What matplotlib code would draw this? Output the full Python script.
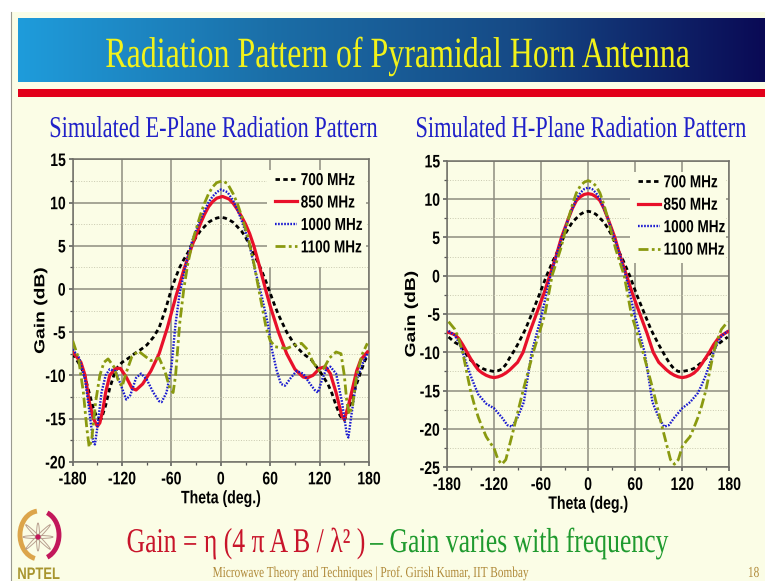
import numpy as np
import matplotlib
matplotlib.use('Agg')
import matplotlib.pyplot as plt
from matplotlib.colors import LinearSegmentedColormap
from matplotlib.patches import Arc, Circle, Ellipse, Rectangle
from matplotlib.patheffects import AbstractPathEffect
from matplotlib.transforms import Affine2D

W, H = 765, 581
bg = '#FBFDE6'

labels = ['700 MHz', '850 MHz', '1000 MHz', '1100 MHz']
colors = ['black', '#E8102A', '#1A1AD0', '#8A9A10']
styles = [(0, (1.6, 1.2)), '-', (0, (0.7, 0.6)), (0, (3.6, 1.2, 1, 1.2))]
widths = [2.0, 2.3, 1.7, 2.0]

# E-plane
e700_x = [-180,-170,-165,-160,-155,-150,-145,-140,-135,-130,-125,-120,-112,-105,-97,-90,-82,-75,-67,-60,-55,-50,-45,-40,-35,-30,-25,-20,-15,-10,-5,0,5,10,15,20,25,30,35,40,45,50,55,60,65,70,75,80,90,100,110,120,130,135,140,145,150,155,160,165,170,175,178]
e700_y = [-7.5,-9,-10.2,-12,-13.8,-15,-15,-13.5,-11.5,-10,-9,-8.5,-8,-7.5,-7,-6.5,-5.6,-4.5,-2.3,0,1.3,2.5,3.4,4.2,5.2,6,6.7,7.2,7.7,8,8.2,8.3,8.2,8,7.7,7.2,6.7,6,5,4,3.1,2,0.8,-0.5,-1.8,-3,-4,-5,-6.5,-7.5,-8.2,-9.5,-11,-12.1,-13.5,-14.7,-15.2,-14,-12.5,-11,-9.6,-8.3,-7.8]
e850_x = [-180,-170,-165,-160,-155,-150,-147,-143,-140,-135,-128,-122,-115,-108,-103,-95,-85,-75,-65,-55,-45,-35,-25,-20,-15,-10,-5,2,10,15,20,25,30,35,40,45,50,55,60,70,80,90,100,105,112,120,127,133,140,147,150,155,160,165,170,178]
e850_y = [-7.3,-8.5,-10,-13,-15,-15.9,-15.5,-13.8,-12,-10,-9.2,-9.2,-10.2,-11.5,-11.7,-11,-9.5,-7.5,-4.5,-1,2.2,5,7.5,8.6,9.5,10.1,10.5,10.7,10.4,9.9,9.2,8.4,7.5,6.4,5,3.3,1.5,-0.3,-2,-5,-7.5,-9.3,-10.2,-10.3,-10,-9.2,-9,-9.8,-12,-14.7,-15.1,-13.5,-11.5,-9.5,-8.2,-7.3]
e1000_x = [-180,-172,-165,-160,-155,-153,-150,-145,-140,-135,-128,-122,-115,-110,-103,-97,-90,-82,-75,-72,-66,-60,-55,-50,-42,-35,-25,-20,-15,-10,-5,0,8,15,20,25,30,35,42,50,57,62,68,73,78,85,92,100,107,114,118,123,128,133,140,147,153,155,158,165,172,178]
e1000_y = [-7,-8,-10.5,-14,-17.8,-18,-16,-12,-10,-9.3,-9.5,-11,-12.8,-12.3,-10.3,-9.8,-10.5,-12,-13,-13.1,-12,-9,-4,-0.5,3,5.5,8,9,10,10.7,11.2,11.5,11.2,10.2,9.2,8,6.6,5,2,-1,-4,-7,-9.5,-11,-11.2,-10.3,-9.5,-9.8,-10.8,-11.7,-12,-10.5,-9.3,-9,-9.8,-13,-16.8,-17.2,-15,-10.5,-8.7,-7.5]
e1100_x = [-180,-173,-167,-163,-160,-157,-152,-147,-142,-137,-130,-125,-120,-115,-108,-100,-92,-85,-75,-68,-62,-58,-55,-50,-45,-40,-33,-25,-20,-15,-10,-5,2,8,15,20,25,33,40,48,55,60,66,80,90,98,105,112,120,125,132,140,146,150,153,156,160,165,172,178]
e1100_y = [-6,-8,-12,-16,-18.3,-17.5,-13,-10,-8.5,-8.1,-9,-10.5,-11.3,-9.7,-7.8,-7.2,-7.8,-8.3,-8,-9.5,-11.5,-12,-10,-4,0,3,6,8.5,9.9,11,11.8,12.3,12.5,12.2,11,9.9,8.5,6,3,-1,-4.5,-6,-6.7,-6.9,-6.5,-6.3,-7,-8.5,-9.5,-9.2,-8,-7.3,-7.5,-10,-13,-14.5,-13.5,-10,-7.5,-6.3]

# H-plane
h700_x = [-178,-170,-165,-160,-155,-150,-145,-140,-135,-130,-125,-120,-115,-110,-105,-100,-95,-90,-80,-72,-62,-53,-45,-38,-30,-25,-20,-15,-10,-5,0,5,10,15,20,25,30,38,45,53,62,72,80,90,95,100,105,110,115,120,125,130,135,140,145,150,155,160,165,170,178]
h700_y = [-8,-8.7,-9,-9.5,-10.3,-11,-11.4,-11.8,-12.1,-12.3,-12.4,-12.5,-12.4,-12.2,-11.6,-10.7,-9.9,-9,-7,-5,-2.4,0,1.9,3.4,5.3,6.2,7,7.5,8,8.3,8.4,8.3,8,7.5,7,6.2,5.3,3.4,1.9,0,-2.5,-5,-7,-9,-9.9,-10.8,-11.6,-12.2,-12.5,-12.5,-12.4,-12.3,-12.1,-11.7,-11.3,-10.8,-10.2,-9.4,-9,-8.6,-8]
h850_x = [-178,-170,-165,-160,-155,-150,-145,-140,-135,-130,-125,-120,-115,-110,-105,-100,-90,-83,-75,-66,-57,-49,-41,-34,-25,-20,-15,-10,-5,0,5,10,15,20,25,34,41,49,57,66,75,83,90,100,105,110,115,120,125,130,135,140,145,150,155,160,165,170,178]
h850_y = [-7.4,-7.7,-8.2,-9,-9.9,-10.8,-11.6,-12.3,-12.7,-13,-13.2,-13.3,-13.2,-13,-12.7,-12.3,-11.3,-10,-7.5,-5,-2.5,0,2.5,5,7.5,8.8,9.8,10.3,10.6,10.7,10.6,10.3,9.8,8.8,7.5,5,2.5,0,-2.5,-5,-7.5,-10,-11.3,-12.3,-12.7,-13,-13.2,-13.3,-13.2,-13,-12.7,-12.2,-11.5,-10.7,-9.9,-9,-8.3,-7.8,-7.3]
h1000_x = [-178,-170,-165,-160,-155,-150,-145,-140,-130,-120,-110,-103,-97,-90,-82,-72,-59,-48,-38,-30,-25,-20,-15,-10,-5,0,5,10,15,20,25,30,38,48,59,72,82,90,97,103,110,120,130,140,145,150,155,160,165,170,178]
h1000_y = [-7.2,-7.8,-8.7,-10,-11.5,-13,-14.3,-15.5,-16.7,-17.3,-18.5,-19.5,-19.7,-18.5,-16.5,-10,-5,0,3.5,6,7.5,8.8,10,10.8,11.3,11.5,11.3,10.8,10,8.8,7.5,6,3.5,0,-5,-10,-16.5,-18.5,-19.7,-19.5,-18.5,-17.3,-16.5,-15.3,-14.2,-13,-11.5,-10,-8.8,-7.9,-7.2]
h1100_x = [-178,-170,-165,-160,-155,-150,-145,-140,-135,-130,-125,-120,-115,-110,-105,-95,-83,-70,-55,-46,-35,-25,-20,-15,-10,-5,0,5,10,15,20,25,35,46,55,70,83,95,105,110,115,120,125,130,135,140,145,150,155,160,165,170,178]
h1100_y = [-6,-7,-8.3,-10,-12.5,-15,-16.9,-18.5,-19.8,-21,-21.8,-22.5,-24,-24.6,-24,-20,-15,-10,-5,0,3.5,7.5,9.3,10.8,11.7,12.2,12.4,12.2,11.7,10.8,9.3,7.5,3.5,0,-5,-10,-15,-20,-24,-24.6,-24,-22.3,-21.6,-21,-19.8,-18.5,-16.9,-15,-12.5,-10,-8.3,-7,-6]

e_series = [(e700_x, e700_y), (e850_x, e850_y), (e1000_x, e1000_y), (e1100_x, e1100_y)]
h_series = [(h700_x, h700_y), (h850_x, h850_y), (h1000_x, h1000_y), (h1100_x, h1100_y)]

xticks = [-180, -120, -60, 0, 60, 120, 180]
e_yticks = [15, 10, 5, 0, -5, -10, -15, -20]
h_yticks = [15, 10, 5, 0, -5, -10, -15, -20, -25]

plt.rcParams['font.family'] = ['Liberation Sans', 'DejaVu Sans']
plt.rcParams['axes.unicode_minus'] = False


# the slide is squeezed sideways, this reshapes the glyphs the same way
class Squeeze(AbstractPathEffect):
    def __init__(self, sx=0.78, sy=1.0, anchor='center', baseline=False):
        super().__init__()
        self.sx = sx
        self.sy = sy
        self.anchor = anchor
        self.baseline = baseline

    def draw_path(self, renderer, gc, tpath, affine, rgbFace=None):
        ext = tpath.get_extents(affine)
        cx = {'left': ext.x0, 'center': (ext.x0 + ext.x1) / 2, 'right': ext.x1}[self.anchor]
        cy = affine.get_matrix()[1, 2] if self.baseline else (ext.y0 + ext.y1) / 2
        tr = affine + Affine2D().translate(-cx, -cy).scale(self.sx, self.sy).translate(cx, cy)
        renderer.draw_path(gc, tpath, tr, rgbFace)


fig = plt.figure(figsize=(W / 100, H / 100), dpi=100, facecolor='white')

# slide furniture, in pixel coordinates
bk = fig.add_axes([0, 0, 1, 1], zorder=0)
bk.add_patch(Rectangle((11, 12), W - 11, H - 12, color=bg, lw=0))
bk.plot([11, 11], [12, H], color='#9a9a90', lw=0.8)
cmap = LinearSegmentedColormap.from_list('hdr', ['#1F9CDB', '#1B6FA8', '#164A86', '#0A0A55'])
bk.imshow(np.linspace(0, 1, 256).reshape(1, -1), cmap=cmap, extent=[18, W, 82, 18], aspect='auto', zorder=1)
bk.add_patch(Rectangle((18, 89), W - 18, 8, color='#E2001A', lw=0, zorder=1))
bk.set_xlim(0, W)
bk.set_ylim(H, 0)
bk.axis('off')

serif = ['Liberation Serif', 'DejaVu Serif']


def slide_text(x, y, s, color, size, sx=0.74, sy=1.0):
    t = bk.text(x, y, s, color=color, fontsize=size, family=serif, ha='center', va='baseline', zorder=2)
    t.set_path_effects([Squeeze(sx, sy, baseline=True)])


slide_text(397.5, 67, 'Radiation Pattern of Pyramidal Horn Antenna', '#F2F21A', 28.5, sx=0.807, sy=1.09)
slide_text(213.5, 137, 'Simulated E-Plane Radiation Pattern', '#2020C8', 17.4, sx=0.925, sy=1.25)
slide_text(581, 137, 'Simulated H-Plane Radiation Pattern', '#2020C8', 17.4, sx=0.925, sy=1.25)
slide_text(246.5, 552, 'Gain = \u03b7 (4 \u03c0 A B / \u03bb\u00b2 )', '#C8142A', 18.5, sx=1.0, sy=1.35)
slide_text(520, 552, '\u2013 Gain varies with frequency', '#1F9A2E', 18.5, sx=1.0, sy=1.35)
slide_text(370.5, 577, 'Microwave Theory and Techniques | Prof. Girish Kumar, IIT Bombay', '#B08A3A', 11)
slide_text(753.5, 577, '18', '#B08A3A', 11)

# logo
bk.add_patch(Arc((39, 535), 38, 48, theta1=100, theta2=265, ec='#DCA54B', lw=3.5))
bk.add_patch(Arc((40, 535), 38, 48, theta1=-72, theta2=72, ec='#C2185B', lw=3.5))
for a in range(0, 180, 45):
    c, s = np.cos(np.radians(a)), np.sin(np.radians(a))
    bk.add_patch(Ellipse((38, 537), 28 * abs(c) + 26 * s * s + 2, 3, angle=a, fill=False, ec='#B9A090', lw=0.7))
bk.add_patch(Circle((38, 537), 2.6, color='#C2185B', lw=0, zorder=3))
logo = bk.text(38.5, 579, 'NPTEL', color='#A8952F', fontsize=12, fontweight='bold', ha='center', va='baseline')
logo.set_path_effects([Squeeze(0.78)])


def panel(px, series, yticks, ylim, ylab_x, leg_xy, frame_px):
    ax = fig.add_axes([px[0] / W, 1 - px[3] / H, (px[1] - px[0]) / W, (px[3] - px[2]) / H], zorder=2)
    ax.set_facecolor('none')
    for (x, y), lab, c, st, lw in zip(series, labels, colors, styles, widths):
        ax.plot(x, y, color=c, linestyle=st, lw=lw, label=lab, zorder=3)
    ax.set_xlim(-180, 180)
    ax.set_ylim(*ylim)
    ax.set_xticks(xticks)
    ax.set_yticks(yticks)
    ax.set_xticks(np.arange(-150, 180, 60), minor=True)
    ax.set_yticks(np.arange(ylim[0] + 2.5, ylim[1], 5), minor=True)
    ax.grid(True, which='major', color='#8E8E80', lw=1.1)
    ax.grid(True, which='minor', axis='y', color='#C9C9B0', lw=0.7, ls=':')
    ax.set_axisbelow(True)
    ax.tick_params(which='major', length=3, width=1.1, color='#555555', labelsize=10.5)
    ax.tick_params(which='minor', length=2.2, width=0.9, color='#555555')
    ax.tick_params(axis='x', which='major', pad=4.5)
    ax.tick_params(axis='y', which='major', pad=2)
    for tl in ax.get_xticklabels():
        tl.set_fontweight('bold')
        tl.set_path_effects([Squeeze(0.96, 1.24)])
    for tl in ax.get_yticklabels():
        tl.set_fontweight('bold')
        tl.set_path_effects([Squeeze(0.96, 1.24, 'right')])
    for s in ax.spines.values():
        s.set_color('#707068')
        s.set_linewidth(1.1)
    ax.set_xlabel('Theta (deg.)', fontsize=13, fontweight='bold', labelpad=3, path_effects=[Squeeze(0.78)])
    ax.set_ylabel('Gain (dB)', fontsize=11, fontweight='bold', path_effects=[Squeeze(0.95, 1.26)])
    ax.yaxis.set_label_coords(ylab_x, 0.5)
    # blank patch that hides the grid behind the legend
    fx0 = (frame_px[0] - px[0]) / (px[1] - px[0])
    fx1 = (frame_px[1] - px[0]) / (px[1] - px[0])
    fy0 = (px[3] - frame_px[3]) / (px[3] - px[2])
    fy1 = (px[3] - frame_px[2]) / (px[3] - px[2])
    ax.add_patch(Rectangle((fx0, fy0), fx1 - fx0, fy1 - fy0, transform=ax.transAxes, color=bg, lw=0, zorder=1))
    leg = ax.legend(loc='upper left', bbox_to_anchor=leg_xy, frameon=False,
                    prop={'size': 12.5, 'weight': 'bold'}, handlelength=1.27,
                    handletextpad=0.2, labelspacing=0.42, borderpad=0, borderaxespad=0)
    for t in leg.get_texts():
        t.set_path_effects([Squeeze(0.78, 1.0, 'left')])
    return ax


panel((72.7, 369, 159.3, 461.7), e_series, e_yticks, (-20, 15), -0.085, (0.683, 0.955), (267, 366, 170, 267))
panel((447, 729.3, 160.7, 467.3), h_series, h_yticks, (-25, 15), -0.102, (0.676, 0.953), (630, 726, 172, 263))

fig.savefig('out.png', dpi=100, facecolor='white')
